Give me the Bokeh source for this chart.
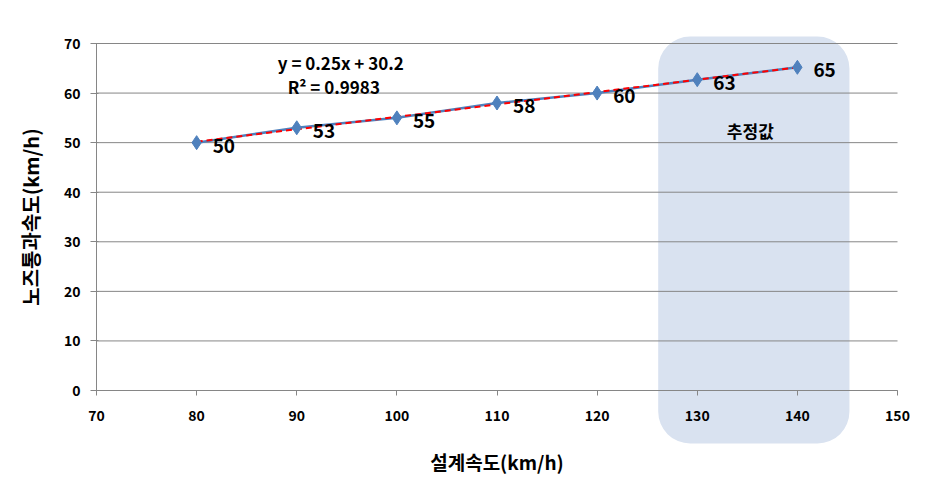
from bokeh.plotting import figure
from bokeh.models import BoxAnnotation, ColumnDataSource, Range1d, FixedTicker
from bokeh.core.properties import value
from bokeh.embed import file_html
from bokeh.resources import INLINE
import numpy as np

design_speed = [80, 90, 100, 110, 120, 130, 140]
pass_speed = [50, 53, 55, 58, 60, 62.7, 65.2]
labels = ["50", "53", "55", "58", "60", "63", "65"]
x_ticks = [70, 80, 90, 100, 110, 120, 130, 140, 150]
y_ticks = [0, 10, 20, 30, 40, 50, 60, 70]
eq_text = "y = 0.25x + 30.2"
r2_text = "R² = 0.9983"
est_text = "추정값"
x_title = "설계속도(km/h)"
y_title = "노즈통과속도(km/h)"

FONT = "Noto Sans CJK KR"

# frame covers the whole canvas; data region 70..150 x 0..70
p = figure(width=944, height=483, frame_width=944, frame_height=483,
           min_border=0, output_backend="svg", toolbar_location=None,
           x_range=Range1d(60.412, 154.694), y_range=Range1d(-18.76, 78.675))
p.outline_line_color = None
p.background_fill_color = "white"
p.border_fill_color = "white"

# estimated region
box = BoxAnnotation(left=126.1, right=145.2, top=71.4, bottom=-10.7,
                    fill_color="#D9E2F0", fill_alpha=1.0, line_color=None,
                    border_radius=32, level="image")
p.add_layout(box)

# horizontal gridlines across the data area only
p.segment(x0=[x_ticks[0]] * len(y_ticks), x1=[x_ticks[-1]] * len(y_ticks),
          y0=y_ticks, y1=y_ticks, line_color="#868686", line_width=1)

src = ColumnDataSource(dict(x=design_speed, y=pass_speed, lab=labels))
p.line("x", "y", source=src, line_color="#4F81BD", line_width=2.5)

coef = np.polyfit(design_speed, pass_speed, 1)
tx = [design_speed[0], design_speed[-1]]
ty = [coef[0] * t + coef[1] for t in tx]
p.line(tx, ty, line_color="#FF0000", line_width=2, line_dash="6 4")

p.scatter("x", "y", source=src, marker="diamond", size=14, fill_color="#4F81BD",
          line_color="#4F81BD")

p.text("x", "y", text="lab", source=src, x_offset=16, y_offset=3,
       text_font=value(FONT), text_font_style="bold", text_font_size="19px",
       text_color="black", text_baseline="middle", text_align="left")

p.text([94.4], [66.1], text=[eq_text], text_font=value(FONT), text_font_style="bold",
       text_font_size="17px", text_align="center", text_baseline="middle", text_color="black")
p.text([93.7], [61.3], text=[r2_text], text_font=value(FONT), text_font_style="bold",
       text_font_size="17px", text_align="center", text_baseline="middle", text_color="black")
p.text([135.3], [52.5], text=[est_text], text_font=value(FONT), text_font_style="bold",
       text_font_size="17px", text_align="center", text_baseline="middle", text_color="black")

for ax in (p.xaxis[0], p.yaxis[0]):
    ax.axis_line_color = "#868686"
    ax.major_tick_line_color = "#868686"
    ax.minor_tick_line_color = None
    ax.major_label_text_font = FONT
    ax.major_label_text_font_style = "bold"
    ax.major_label_text_font_size = "14px"
    ax.major_label_text_color = "black"
    ax.axis_label_text_font = FONT
    ax.axis_label_text_font_style = "bold"
    ax.axis_label_text_color = "black"

p.xaxis.major_tick_in = 0
p.xaxis.major_tick_out = 5
p.yaxis.major_tick_in = 2
p.yaxis.major_tick_out = 6

p.xaxis.ticker = FixedTicker(ticks=x_ticks)
p.yaxis.ticker = FixedTicker(ticks=y_ticks)
p.xaxis.bounds = (x_ticks[0], x_ticks[-1])
p.yaxis.bounds = (y_ticks[0], y_ticks[-1])
p.xaxis.fixed_location = y_ticks[0]
p.yaxis.fixed_location = x_ticks[0]
p.xaxis.axis_label = x_title
p.yaxis.axis_label = y_title
p.xaxis.axis_label_text_font_size = "19px"
p.yaxis.axis_label_text_font_size = "20px"
p.xaxis.major_label_standoff = 14
p.xaxis.axis_label_standoff = 24
p.yaxis.major_label_standoff = 10
p.yaxis.axis_label_standoff = 16

p.xgrid.visible = False
p.ygrid.visible = False

open("out.html", "w").write(file_html(p, INLINE))
